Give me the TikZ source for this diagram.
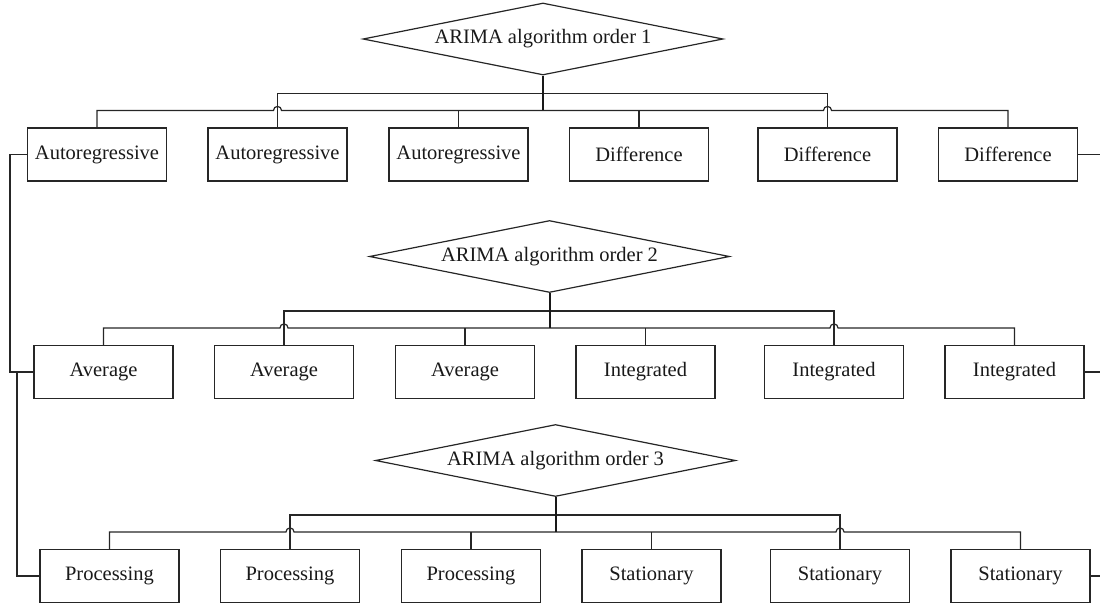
\documentclass[tikz,border=0pt]{standalone}
\usepackage{fontspec}
\setmainfont{Liberation Serif}
\usetikzlibrary{shapes.geometric,calc}
\tikzset{
  ln/.style={line width=1.2pt,draw=black!85},
  thickln/.style={line width=2pt,draw=black!90},
  boxnode/.style={ln,rectangle,minimum width=139pt,minimum height=53pt,inner sep=0pt,
     font=\fontsize{20.5}{24}\selectfont,text=black!90},
  dia/.style={ln,diamond,aspect=5,minimum width=360pt,minimum height=72pt,inner sep=0pt,
     font=\fontsize{20.5}{24}\selectfont,text=black!90}
}
\newcommand\arimalevel[6]{%
  \node[dia] (#1d) at (543+#3,#2-115.5) {ARIMA algorithm order #4};
  \node[boxnode] (#11) at (97+#3,#2) {#5};
  \node[boxnode] (#12) at (277.5+#3,#2) {#5};
  \node[boxnode] (#13) at (458.5+#3,#2) {#5};
  \node[boxnode] (#14) at (639+#3,#2) {#6};
  \node[boxnode] (#15) at (827.5+#3,#2) {#6};
  \node[boxnode] (#16) at (1008+#3,#2) {#6};
  \coordinate (#1r) at (1100,#2);
  % upper bus
  \draw[ln] (#12.north) -- ++(0,-34) -| (#15.north);
  % lower bus with hops
  \draw[ln] (#11.north) -- ++(0,-17) -- ($(#12.north)+(-4,-17)$)
     arc[start angle=180,end angle=0,radius=4pt]
     -- ($(#15.north)+(-4,-17)$)
     arc[start angle=180,end angle=0,radius=4pt]
     -| (#16.north);
  \draw[ln] (#13.north) -- ++(0,-17);
  \draw[ln] (#14.north) -- ++(0,-17);
  \draw[thickln] (#1d.south) -- ($(#1d.south |- #11.north)+(0,-17)$);
  \draw[ln] (#16.east) -- (#1r);
}
\begin{document}
\begin{tikzpicture}[x=1pt,y=-1pt]
\useasboundingbox (0,0) rectangle (1100,605);
\arimalevel{a}{154.5}{0}{1}{Autoregressive}{Difference}
\arimalevel{b}{372}{6.5}{2}{Average}{Integrated}
\arimalevel{c}{576}{12.5}{3}{Processing}{Stationary}
\coordinate (lx) at (10,0);
\coordinate (ly) at (17,0);
\draw[ln] (a1.west) -- (a1.west -| lx) |- (b1.west);
\draw[ln] (ly |- b1.west) |- (c1.west);
\end{tikzpicture}
\end{document}
